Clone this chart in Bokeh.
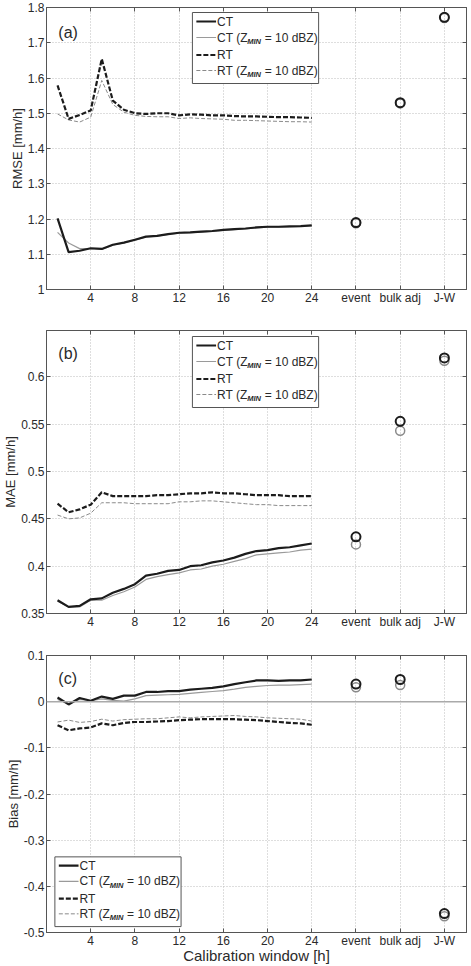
from bokeh.plotting import figure
from bokeh.layouts import column
from bokeh.models import FixedTicker, NumeralTickFormatter, LinearAxis, Span, Label
from bokeh.embed import file_html
from bokeh.resources import INLINE

# ---------------------------------------------------------------- data
hours = list(range(1, 25))
method_pos = [28, 32, 36]
method_labels = ["event", "bulk adj", "J-W"]
x_ticks = [4, 8, 12, 16, 20, 24] + method_pos

rmse_ct = [1.202, 1.106, 1.110, 1.117, 1.115, 1.127, 1.133, 1.141, 1.150, 1.152, 1.157, 1.161,
           1.162, 1.164, 1.166, 1.169, 1.171, 1.173, 1.176, 1.178, 1.178, 1.179, 1.180, 1.182]
rmse_ct_z = [1.162, 1.132, 1.116, 1.116, 1.114, 1.126, 1.132, 1.140, 1.149, 1.151, 1.156, 1.160,
             1.161, 1.163, 1.165, 1.168, 1.170, 1.172, 1.175, 1.177, 1.177, 1.178, 1.179, 1.181]
rmse_rt = [1.579, 1.484, 1.495, 1.508, 1.654, 1.536, 1.510, 1.500, 1.498, 1.500, 1.500, 1.494,
           1.497, 1.496, 1.494, 1.494, 1.492, 1.491, 1.491, 1.490, 1.489, 1.489, 1.488, 1.487]
rmse_rt_z = [1.498, 1.481, 1.475, 1.489, 1.593, 1.525, 1.503, 1.494, 1.491, 1.490, 1.490, 1.485,
             1.487, 1.485, 1.484, 1.483, 1.480, 1.480, 1.479, 1.478, 1.477, 1.476, 1.476, 1.475]
rmse_methods = [1.190, 1.530, 1.772]
rmse_methods_z = [1.188, 1.528, 1.770]

mae_ct = [0.364, 0.357, 0.358, 0.365, 0.366, 0.372, 0.376, 0.381, 0.390, 0.392, 0.395, 0.396,
          0.400, 0.401, 0.404, 0.406, 0.409, 0.413, 0.416, 0.417, 0.419, 0.420, 0.422, 0.424]
mae_ct_z = [0.363, 0.357, 0.357, 0.364, 0.364, 0.369, 0.373, 0.378, 0.386, 0.389, 0.391, 0.393,
            0.396, 0.397, 0.400, 0.402, 0.405, 0.408, 0.412, 0.413, 0.414, 0.415, 0.417, 0.418]
mae_rt = [0.466, 0.457, 0.460, 0.465, 0.478, 0.474, 0.474, 0.474, 0.474, 0.475, 0.475, 0.476,
          0.477, 0.477, 0.478, 0.477, 0.477, 0.476, 0.475, 0.475, 0.475, 0.474, 0.474, 0.474]
mae_rt_z = [0.454, 0.450, 0.451, 0.456, 0.467, 0.467, 0.467, 0.466, 0.466, 0.466, 0.466, 0.468,
            0.468, 0.469, 0.469, 0.468, 0.467, 0.466, 0.465, 0.465, 0.464, 0.464, 0.464, 0.464]
mae_methods = [0.431, 0.553, 0.620]
mae_methods_z = [0.423, 0.543, 0.617]

bias_ct = [0.009, -0.006, 0.008, 0.002, 0.011, 0.006, 0.013, 0.013, 0.021, 0.021, 0.023, 0.023,
           0.026, 0.028, 0.030, 0.033, 0.038, 0.042, 0.046, 0.046, 0.045, 0.046, 0.046, 0.048]
bias_ct_z = [0.005, -0.004, 0.005, 0.002, 0.006, 0.003, 0.001, 0.006, 0.013, 0.014, 0.015, 0.016,
             0.018, 0.020, 0.022, 0.024, 0.027, 0.031, 0.033, 0.035, 0.036, 0.036, 0.037, 0.038]
bias_rt = [-0.051, -0.062, -0.058, -0.056, -0.047, -0.051, -0.046, -0.044, -0.044, -0.043, -0.042, -0.040,
           -0.039, -0.038, -0.038, -0.038, -0.038, -0.039, -0.040, -0.042, -0.044, -0.046, -0.047, -0.050]
bias_rt_z = [-0.044, -0.040, -0.045, -0.043, -0.038, -0.042, -0.039, -0.038, -0.037, -0.037, -0.035, -0.033,
             -0.035, -0.033, -0.032, -0.031, -0.030, -0.032, -0.033, -0.035, -0.036, -0.037, -0.038, -0.042]
bias_methods = [0.038, 0.048, -0.459]
bias_methods_z = [0.031, 0.036, -0.465]

rmse_ticks = [1.0, 1.1, 1.2, 1.3, 1.4, 1.5, 1.6, 1.7, 1.8]
mae_ticks = [0.35, 0.4, 0.45, 0.5, 0.55, 0.6]
bias_ticks = [-0.5, -0.4, -0.3, -0.2, -0.1, 0.0, 0.1]

# ---------------------------------------------------------------- style
FONT = "Liberation Sans"
W = 471
FRAME_W = 426
BLACK = "#1c1c1c"
GREY = "#9a9a9a"
AX = "#555555"

# approximate Arial / Liberation Sans advance widths (per 1000 em)
ADV = {"C": 722, "T": 611, " ": 278, "(": 333, "Z": 611, "=": 584, "1": 556, "0": 556,
       "d": 556, "B": 667, ")": 333, "R": 722, "M": 833, "I": 278, "N": 722}


def text_w(s, size):
    return sum(ADV.get(c, 556) for c in s) * size / 1000.0


def frame_to_data(p, fh, px, py):
    x0, x1 = p.x_range.start, p.x_range.end
    y0, y1 = p.y_range.start, p.y_range.end
    return x0 + px / FRAME_W * (x1 - x0), y1 - py / fh * (y1 - y0)


def make_panel(height, top, bottom, y_range, y_ticks, ylabel, xlabel=None):
    p = figure(width=W, height=height, x_range=(0, 38), y_range=y_range,
               output_backend="svg", toolbar_location=None,
               min_border_left=40, min_border_right=5,
               min_border_top=top, min_border_bottom=bottom,
               background_fill_color="white", border_fill_color="white")
    p.outline_line_color = AX
    p.outline_line_width = 1

    p.xaxis.ticker = FixedTicker(ticks=x_ticks)
    p.xaxis.major_label_overrides = {pos: lab for pos, lab in zip(method_pos, method_labels)}
    p.yaxis.ticker = FixedTicker(ticks=y_ticks)
    p.yaxis.formatter = NumeralTickFormatter(format="0.[00]")

    for ax in p.xaxis + p.yaxis:
        ax.axis_line_color = AX
        ax.major_tick_line_color = AX
        ax.major_tick_in = 4
        ax.major_tick_out = 0
        ax.minor_tick_line_color = None
        ax.major_label_text_font = FONT
        ax.major_label_text_font_size = "12px"
        ax.major_label_text_color = "#2a2a2a"
    p.xaxis.major_label_standoff = 1
    p.yaxis.major_label_standoff = 2

    p.yaxis.axis_label = ylabel
    p.yaxis.axis_label_text_font = FONT
    p.yaxis.axis_label_text_font_size = "13px"
    p.yaxis.axis_label_text_font_style = "normal"
    p.yaxis.axis_label_text_color = "#2a2a2a"
    p.yaxis.axis_label_standoff = 0
    if xlabel:
        p.xaxis.axis_label = xlabel
        p.xaxis.axis_label_text_font = FONT
        p.xaxis.axis_label_text_font_size = "15px"
        p.xaxis.axis_label_text_font_style = "normal"
        p.xaxis.axis_label_text_color = "#2a2a2a"
        p.xaxis.axis_label_standoff = -4

    # mirrored inner ticks on the top and right edges
    for side, ticks in (("right", y_ticks), ("above", x_ticks)):
        ax = LinearAxis(ticker=FixedTicker(ticks=ticks), major_label_text_font_size="0px",
                        major_label_standoff=0, major_tick_in=4, major_tick_out=0,
                        minor_tick_line_color=None, axis_line_color=AX,
                        major_tick_line_color=AX)
        ax.major_label_overrides = {t: "" for t in ticks}
        p.add_layout(ax, side)

    p.grid.grid_line_color = "#bdbdbd"
    p.grid.grid_line_dash = "1 2"
    p.grid.grid_line_width = 1
    return p


def draw_series(p, ct, ct_z, rt, rt_z, pts, pts_z):
    p.line(hours, ct_z, line_color=GREY, line_width=1.2)
    p.line(hours, rt_z, line_color="#8a8a8a", line_width=1.0, line_dash="4 2")
    p.line(hours, ct, line_color=BLACK, line_width=2.2)
    p.line(hours, rt, line_color=BLACK, line_width=2.2, line_dash="5 2")
    p.scatter(method_pos, pts_z, marker="circle", size=9, fill_color=None,
              line_color="#8a8a8a", line_width=1.5)
    p.scatter(method_pos, pts, marker="circle", size=9, fill_color=None,
              line_color=BLACK, line_width=2)


def legend_text(p, x, y, text, size="12px", style="normal"):
    p.add_layout(Label(x=x, y=y, text=text, text_font=FONT, text_font_size=size,
                       text_font_style=style, text_color="#2a2a2a",
                       text_baseline="middle", text_align="left"))


def draw_legend(p, fh, left, top):
    box_w, box_h = 128, 71
    x0, y0 = frame_to_data(p, fh, left, top)
    x1, y1 = frame_to_data(p, fh, left + box_w, top + box_h)
    p.quad(left=[x0], right=[x1], top=[y0], bottom=[y1], fill_color="white",
           line_color=AX, line_width=1)
    rows = [("CT", False, BLACK, 2.2, "solid"),
            ("CT", True, GREY, 1.2, "solid"),
            ("RT", False, BLACK, 2.2, "5 2"),
            ("RT", True, "#8a8a8a", 1.0, "4 2")]
    offsets = [9, 25, 42.5, 58]
    for (name, zmin, color, lw, dash), dy in zip(rows, offsets):
        sx0, sy = frame_to_data(p, fh, left + 4, top + dy)
        sx1, _ = frame_to_data(p, fh, left + 24, top + dy)
        p.line([sx0, sx1], [sy, sy], line_color=color, line_width=lw, line_dash=dash)
        tx, _ = frame_to_data(p, fh, left + 25, top + dy)
        head = name + (" (Z" if zmin else "")
        legend_text(p, tx, sy, head)
        if zmin:
            w1 = text_w(head, 12)
            sub_x, sub_y = frame_to_data(p, fh, left + 25 + w1, top + dy + 4)
            legend_text(p, sub_x, sub_y, "MIN", size="7.5px", style="bold italic")
            w2 = text_w("MIN", 7.5) + text_w(" ", 12)
            tail_x, _ = frame_to_data(p, fh, left + 25 + w1 + w2 + 0.5, top + dy)
            legend_text(p, tail_x, sy, "= 10 dBZ)")


def panel_tag(p, fh, text, py):
    x, y = frame_to_data(p, fh, 12, py)
    p.add_layout(Label(x=x, y=y, text=text, text_font=FONT, text_font_size="16px",
                       text_color="#2a2a2a", text_baseline="middle", text_align="left"))


# ---------------------------------------------------------------- (a) RMSE
fa = 282
pa = make_panel(7 + fa + 34, 7, 34, (1.0, 1.8), rmse_ticks, "RMSE [mm/h]")
draw_series(pa, rmse_ct, rmse_ct_z, rmse_rt, rmse_rt_z, rmse_methods, rmse_methods_z)
draw_legend(pa, fa, 148, 5)
panel_tag(pa, fa, "(a)", 25)

# ---------------------------------------------------------------- (b) MAE
fb = 283
pb = make_panel(7 + fb + 32, 7, 32, (0.35, 0.649), mae_ticks, "MAE [mm/h]")
draw_series(pb, mae_ct, mae_ct_z, mae_rt, mae_rt_z, mae_methods, mae_methods_z)
draw_legend(pb, fb, 148, 6)
panel_tag(pb, fb, "(b)", 23)

# ---------------------------------------------------------------- (c) Bias
fc = 282
pc = make_panel(10 + fc + 29, 10, 29, (-0.5, 0.1), bias_ticks, "Bias [mm/h]",
                xlabel="Calibration window [h]")
pc.add_layout(Span(location=0, dimension="width", line_color="#aaaaaa", line_width=1.5))
draw_series(pc, bias_ct, bias_ct_z, bias_rt, bias_rt_z, bias_methods, bias_methods_z)
draw_legend(pc, fc, 8.5, 205)
panel_tag(pc, fc, "(c)", 23)

layout = column(pa, pb, pc, spacing=0)
open("out.html", "w").write(file_html(layout, INLINE))
